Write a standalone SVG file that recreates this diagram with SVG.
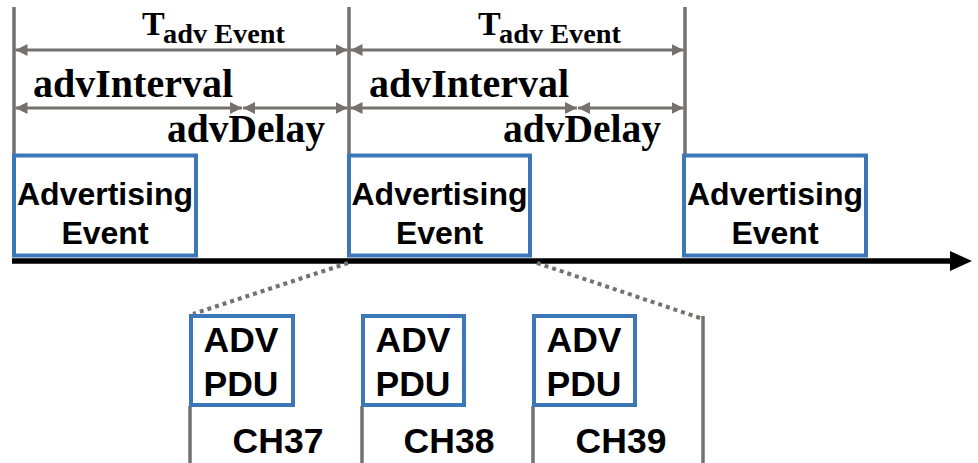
<svg xmlns="http://www.w3.org/2000/svg" width="978" height="463" viewBox="0 0 978 463">
<defs>
<marker id="ah" viewBox="0 0 12 12" refX="12" refY="6" markerWidth="12" markerHeight="12" markerUnits="userSpaceOnUse" orient="auto-start-reverse">
<path d="M0,0 L12,6 L0,12 z" fill="#767171"/>
</marker>
<style>
.g{stroke:#767171;stroke-width:3.5;fill:none}
.dim{stroke:#767171;stroke-width:3;fill:none;marker-start:url(#ah);marker-end:url(#ah)}
.dot{stroke:#767171;stroke-width:4;stroke-dasharray:4 4;fill:none}
.box{fill:#fff;stroke:#3C78B8;stroke-width:4}
.sans{font-family:"Liberation Sans",Arial,sans-serif;font-weight:bold;fill:#000}
.serif{font-family:"Liberation Serif","Times New Roman",serif;font-weight:bold;fill:#000}
</style>
</defs>
<rect width="978" height="463" fill="#fff"/>
<g id="connectors">
<line class="g" x1="14" y1="7" x2="14" y2="165"/>
<line class="g" x1="349" y1="7" x2="349" y2="165"/>
<line class="g" x1="685" y1="7" x2="685" y2="165"/>
<line class="dim" x1="15.5" y1="50" x2="347.5" y2="50"/>
<line class="dim" x1="350.5" y1="50" x2="683.5" y2="50"/>
<line class="dim" x1="15.5" y1="108" x2="242" y2="108"/>
<line class="dim" x1="243" y1="108" x2="347.5" y2="108"/>
<line class="dim" x1="350.5" y1="108" x2="577" y2="108"/>
<line class="dim" x1="578" y1="108" x2="683.5" y2="108"/>
<line x1="12" y1="261" x2="952" y2="261" stroke="#000" stroke-width="5.5"/>
<polygon points="950,251 972,261 950,271" fill="#000"/>
<line class="dot" x1="348" y1="263" x2="193" y2="314"/>
<line class="dot" x1="537" y1="263" x2="700" y2="318"/>
<line class="g" x1="703" y1="316" x2="703" y2="463"/>
<line class="g" x1="190" y1="406" x2="190" y2="463"/>
<line class="g" x1="362" y1="406" x2="362" y2="463"/>
<line class="g" x1="533" y1="406" x2="533" y2="463"/>
</g>
<g id="labels">
<text class="serif" x="142" y="35" font-size="34">T</text>
<text class="serif" x="163" y="43" font-size="27" textLength="122" lengthAdjust="spacingAndGlyphs">adv Event</text>
<text class="serif" x="478" y="35" font-size="34">T</text>
<text class="serif" x="499" y="43" font-size="27" textLength="122" lengthAdjust="spacingAndGlyphs">adv Event</text>
<text class="serif" x="33" y="97" font-size="40" textLength="200" lengthAdjust="spacingAndGlyphs">advInterval</text>
<text class="serif" x="369" y="97" font-size="40" textLength="200" lengthAdjust="spacingAndGlyphs">advInterval</text>
<text class="serif" x="167" y="142" font-size="40" textLength="158" lengthAdjust="spacingAndGlyphs">advDelay</text>
<text class="serif" x="503" y="142" font-size="40" textLength="158" lengthAdjust="spacingAndGlyphs">advDelay</text>
</g>
<g id="event1">
<rect class="box" x="14" y="155.5" width="182" height="100"/>
<text class="sans" x="105" y="205" font-size="32" text-anchor="middle">Advertising</text>
<text class="sans" x="105" y="244" font-size="32" text-anchor="middle">Event</text>
</g>
<g id="event2">
<rect class="box" x="349" y="155.5" width="181" height="100"/>
<text class="sans" x="439.5" y="205" font-size="32" text-anchor="middle">Advertising</text>
<text class="sans" x="439.5" y="244" font-size="32" text-anchor="middle">Event</text>
</g>
<g id="event3">
<rect class="box" x="684" y="155.5" width="182" height="100"/>
<text class="sans" x="775" y="205" font-size="32" text-anchor="middle">Advertising</text>
<text class="sans" x="775" y="244" font-size="32" text-anchor="middle">Event</text>
</g>
<g id="pdu37">
<rect class="box" x="191" y="316" width="102" height="89"/>
<text class="sans" x="241" y="352" font-size="35.5" text-anchor="middle">ADV</text>
<text class="sans" x="241" y="396" font-size="35.5" text-anchor="middle">PDU</text>
<text class="sans" x="278" y="453" font-size="35.5" text-anchor="middle">CH37</text>
</g>
<g id="pdu38">
<rect class="box" x="363" y="316" width="101" height="89"/>
<text class="sans" x="413" y="352" font-size="35.5" text-anchor="middle">ADV</text>
<text class="sans" x="413" y="396" font-size="35.5" text-anchor="middle">PDU</text>
<text class="sans" x="449" y="453" font-size="35.5" text-anchor="middle">CH38</text>
</g>
<g id="pdu39">
<rect class="box" x="534" y="316" width="101" height="89"/>
<text class="sans" x="584" y="352" font-size="35.5" text-anchor="middle">ADV</text>
<text class="sans" x="584" y="396" font-size="35.5" text-anchor="middle">PDU</text>
<text class="sans" x="621" y="453" font-size="35.5" text-anchor="middle">CH39</text>
</g>
</svg>
